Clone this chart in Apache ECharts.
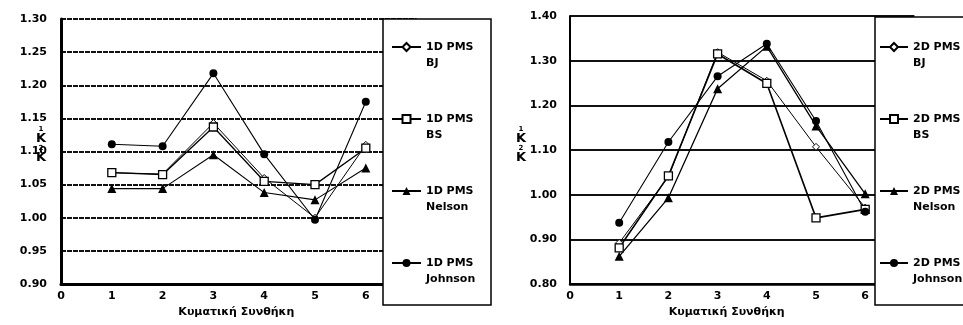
<!DOCTYPE html>
<html><head><meta charset="utf-8">
<script src="https://cdn.jsdelivr.net/npm/echarts@6/dist/echarts.min.js"></script>
<style>html,body{margin:0;padding:0;background:#fff}#c{width:963px;height:325px}</style>
</head><body><div id="c"></div>
<script>
var categories = [1, 2, 3, 4, 5, 6];
var xTicks = [0, 1, 2, 3, 4, 5, 6];
var bj1 = [1.068, 1.066, 1.143, 1.060, 1.000, 1.110];
var bs1 = [1.068, 1.065, 1.137, 1.055, 1.050, 1.105];
var nelson1 = [1.044, 1.044, 1.095, 1.038, 1.027, 1.075];
var johnson1 = [1.111, 1.108, 1.218, 1.096, 0.997, 1.175];
var bj2 = [0.892, 1.040, 1.319, 1.255, 1.107, 0.971];
var bs2 = [0.881, 1.042, 1.315, 1.249, 0.948, 0.967];
var nelson2 = [0.862, 0.993, 1.237, 1.332, 1.154, 1.002];
var johnson2 = [0.937, 1.118, 1.265, 1.338, 1.165, 0.962];
var names1 = ['1D PMS\nBJ', '1D PMS\nBS', '1D PMS\nNelson', '1D PMS\nJohnson'];
var names2 = ['2D PMS\nBJ', '2D PMS\nBS', '2D PMS\nNelson', '2D PMS\nJohnson'];
var xTitle = 'Κυματική Συνθήκη';

var FONT = 'DejaVu Sans';
function pts(arr){ return categories.map(function(c,i){ return [c, arr[i]]; }); }
var styles = [
  {symbol:'diamond', symbolSize:7, itemStyle:{color:'#fff', borderColor:'#000', borderWidth:1}},
  {symbol:'rect', symbolSize:8, itemStyle:{color:'#fff', borderColor:'#000', borderWidth:1.3}},
  {symbol:'triangle', symbolSize:9, itemStyle:{color:'#000', borderColor:'#000', borderWidth:0}},
  {symbol:'circle', symbolSize:8, itemStyle:{color:'#000', borderColor:'#000', borderWidth:0}}
];
function mk(name, arr, k, idx, lw){
  var s = styles[k];
  return {type:'line', name:name, xAxisIndex:idx, yAxisIndex:idx, data:pts(arr),
    symbol:s.symbol, symbolSize:s.symbolSize, itemStyle:s.itemStyle,
    lineStyle:{color:'#000', width:lw}, z:3, animation:false};
}
function xAx(idx, titlePad){
  return {type:'value', gridIndex:idx, min:0, max:7, interval:1,
    axisLine:{show:true, onZero:false, lineStyle:{color:'#000', width: idx===0?3:2.5}},
    axisTick:{show:false}, splitLine:{show:false},
    axisLabel:{fontFamily:FONT, fontWeight:'bold', fontSize:11, color:'#000', margin:7,
      formatter:function(v){ return xTicks.indexOf(v)>=0 ? String(v) : ''; }},
    name:xTitle, nameLocation:'middle', nameGap:22,
    nameTextStyle:{fontFamily:FONT, fontWeight:'bold', fontSize:11, color:'#000', padding:[0,titlePad,0,0]}};
}
function yAx(idx, min, max, itv, margin, grid){
  return {type:'value', gridIndex:idx, min:min, max:max, interval:itv,
    axisLine:{show:true, lineStyle:{color:'#000', width: idx===0?3:2}},
    axisTick:{show:false},
    splitLine:{show:true, lineStyle:grid},
    axisLabel:{fontFamily:FONT, fontWeight:'bold', fontSize:11, color:'#000', margin:margin,
      formatter:function(v){ return v.toFixed(2); }}};
}
function legend(data, left, itemWidth){
  return {orient:'vertical', left:left, top:23, padding:0, itemGap:24, z:200,
    data:data, itemWidth:itemWidth, itemHeight:10, selectedMode:false,
    formatter:function(n){ return ' \n' + n; },
    textStyle:{fontFamily:FONT, fontWeight:'bold', fontSize:11, color:'#000', lineHeight:16}};
}
function kLabel(x){
  return {type:'text', left:x, top:126, z:100,
    style:{text:'{s|1}\n{k|K}\n{s|2}\n{k|K}', textAlign:'center', fill:'#000',
      rich:{s:{fontFamily:FONT, fontSize:7, fontWeight:'bold', lineHeight:7, fill:'#000'},
            k:{fontFamily:FONT, fontSize:13, fontWeight:'bold', lineHeight:12, fill:'#000'}}}};
}

var option = {
  backgroundColor:'#fff',
  animation:false,
  grid:[
    {left:61, top:19, width:355.6, bottom:41, containLabel:false},
    {left:570, top:16, width:344.4, bottom:41, containLabel:false}
  ],
  xAxis:[xAx(0,5), xAx(1,31)],
  yAxis:[
    yAx(0, 0.9, 1.3, 0.05, 14, {color:'#111', width:2, type:[5,1]}),
    yAx(1, 0.8, 1.4, 0.1, 13, {color:'#111', width:2, type:'solid'})
  ],
  legend:[legend(names1, 391, 29), legend(names2, 879, 28)],
  graphic:[
    {type:'rect', shape:{x:383, y:19, width:108, height:286}, z:100,
      style:{fill:'#fff', stroke:'#000', lineWidth:1.5}},
    {type:'rect', shape:{x:875, y:17, width:100, height:288}, z:100,
      style:{fill:'#fff', stroke:'#000', lineWidth:1.5}},
    kLabel(36), kLabel(516)
  ],
  series:[
    mk(names1[0], bj1, 0, 0, 1),
    mk(names1[1], bs1, 1, 0, 1.3),
    mk(names1[2], nelson1, 2, 0, 1.1),
    mk(names1[3], johnson1, 3, 0, 1.1),
    mk(names2[0], bj2, 0, 1, 1),
    mk(names2[1], bs2, 1, 1, 1.6),
    mk(names2[2], nelson2, 2, 1, 1.3),
    mk(names2[3], johnson2, 3, 1, 1.1)
  ]
};
var chart = echarts.init(document.getElementById('c'), null, {renderer:'canvas'});
chart.setOption(option);
</script>
</body></html>
